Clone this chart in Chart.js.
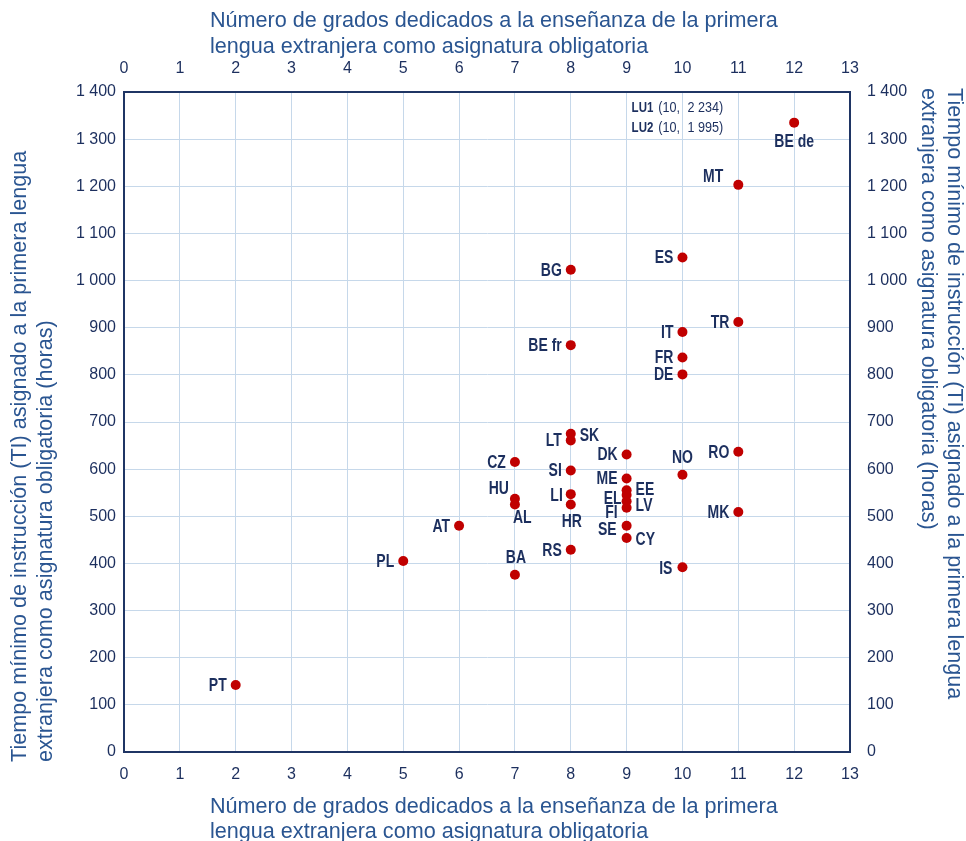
<!DOCTYPE html>
<html lang="es">
<head>
<meta charset="utf-8">
<title>Tiempo mínimo de instrucción de la primera lengua extranjera</title>
<script src="https://cdn.jsdelivr.net/npm/chart.js@4.4.1/dist/chart.umd.min.js"></script>
<style>
  html, body { margin: 0; padding: 0; background: #fff; }
  #wrap { width: 966px; height: 841px; }
</style>
</head>
<body>
<div id="wrap"><canvas id="myChart" width="966" height="841"></canvas></div>
<script>
// países, grados con la lengua como asignatura obligatoria y horas mínimas (TI)
const countries = ['PT', 'PL', 'AT', 'BA', 'CZ', 'HU', 'AL', 'BG', 'BE fr', 'SK', 'LT', 'SI', 'LI', 'HR', 'RS',
                   'DK', 'ME', 'EE', 'EL', 'LV', 'FI', 'SE', 'CY', 'ES', 'IT', 'FR', 'DE', 'NO', 'IS',
                   'MT', 'TR', 'RO', 'MK', 'BE de'];
const grades = [2, 5, 6, 7, 7, 7, 7, 8, 8, 8, 8, 8, 8, 8, 8,
                9, 9, 9, 9, 9, 9, 9, 9, 10, 10, 10, 10, 10, 10,
                11, 11, 11, 11, 12];
const hours = [142, 405, 480, 376, 615, 537, 525, 1023, 863, 675, 661, 597, 547, 525, 429,
               631, 580, 555, 545, 532, 518, 480, 454, 1049, 891, 837, 801, 588, 392,
               1203, 912, 637, 509, 1335];

// Luxemburgo queda fuera de la escala, solo va como nota
const offNames = ['LU1', 'LU2'];
const offGrades = [10, 10];
const offHours = [2234, 1995];

const xTicks = [0, 1, 2, 3, 4, 5, 6, 7, 8, 9, 10, 11, 12, 13];
const yTicks = [0, 100, 200, 300, 400, 500, 600, 700, 800, 900, 1000, 1100, 1200, 1300, 1400];

const xTitle = ['Número de grados dedicados a la enseñanza de la primera',
                'lengua extranjera como asignatura obligatoria'];
const yTitle = ['Tiempo mínimo de instrucción (TI) asignado a la primera lengua',
                'extranjera como asignatura obligatoria (horas)'];

// dónde va cada etiqueta respecto a su punto: alineación, dx, dy
const labelPlace = {
  def: ['right', -9, 1],
  'MT': ['right', -15, -8],
  'BE de': ['center', 0, 20],
  'SK': ['left', 9, 2],
  'NO': ['center', 0, -17],
  'HU': ['right', -6, -10],
  'AL': ['left', -2, 14],
  'HR': ['center', 1, 18],
  'EE': ['left', 9, 0],
  'LV': ['left', 9, 5],
  'EL': ['right', -5, 4],
  'FI': ['right', -9, 5],
  'SE': ['right', -10, 4],
  'CY': ['left', 9, 2],
  'BA': ['center', 1, -17],
  'IS': ['right', -10, 2],
  'LI': ['right', -8, 2]
};

const sans = '"Liberation Sans", Arial, sans-serif';
const navy = '#1c2f5e';
const titleBlue = '#2a5591';
const gridColor = '#c6d8ea';
const frameColor = '#1f3564';

function fmt(v) {
  return String(v).replace(/\B(?=(\d{3})+(?!\d))/g, ' ');
}

// texto estrecho: se comprime en horizontal
function narrowText(ctx, text, x, y, sx) {
  ctx.save();
  ctx.translate(x, y);
  ctx.scale(sx, 1);
  ctx.fillText(text, 0, 0);
  ctx.restore();
}

const pointLabels = {
  id: 'pointLabels',
  afterDatasetsDraw(chart) {
    const ctx = chart.ctx;
    const meta = chart.getDatasetMeta(0);
    ctx.save();
    ctx.fillStyle = navy;
    ctx.textBaseline = 'middle';
    ctx.font = 'bold 17.5px ' + sans;
    meta.data.forEach((pt, i) => {
      const name = countries[i];
      const [align, dx, dy] = labelPlace[name] || labelPlace.def;
      ctx.textAlign = align;
      narrowText(ctx, name, pt.x + dx, pt.y + dy, 0.8);
    });

    // nota LU1 / LU2
    const xs = chart.scales.x;
    ctx.textAlign = 'left';
    offNames.forEach((n, i) => {
      const y = chart.chartArea.top + 16 + i * 20;
      const x0 = xs.getPixelForValue(offGrades[i] - 1) + 5;
      ctx.font = 'bold 14px ' + sans;
      narrowText(ctx, n, x0, y, 0.82);
      const w = ctx.measureText(n).width * 0.82;
      ctx.font = '14px ' + sans;
      narrowText(ctx, '(' + offGrades[i] + ',', x0 + w + 5, y, 0.9);
      narrowText(ctx, fmt(offHours[i]) + ')', xs.getPixelForValue(offGrades[i]) + 5, y, 0.9);
    });
    ctx.restore();
  }
};

const axisTitles = {
  id: 'axisTitles',
  afterDraw(chart) {
    const ctx = chart.ctx;
    ctx.save();
    ctx.font = '21.6px ' + sans;
    ctx.fillStyle = titleBlue;
    ctx.textAlign = 'left';
    ctx.textBaseline = 'middle';
    xTitle.forEach((line, i) => {
      ctx.fillText(line, 210, 21 + i * 26);
      ctx.fillText(line, 210, 807 + i * 25);
    });
    // izquierda, de abajo hacia arriba
    ctx.save();
    ctx.translate(20, 762);
    ctx.rotate(-Math.PI / 2);
    yTitle.forEach((line, i) => ctx.fillText(line, 0, i * 26));
    ctx.restore();
    // derecha, de arriba hacia abajo
    ctx.save();
    ctx.translate(954, 88);
    ctx.rotate(Math.PI / 2);
    yTitle.forEach((line, i) => ctx.fillText(line, 0, i * 26));
    ctx.restore();
    ctx.restore();
  }
};

function xAxis(pos, size, pad, grid) {
  return {
    type: 'linear',
    position: pos,
    min: xTicks[0],
    max: xTicks[xTicks.length - 1],
    afterBuildTicks: s => { s.ticks = xTicks.map(v => ({ value: v })); },
    afterFit: s => { s.height = size; },
    ticks: { padding: pad, color: navy, font: { size: 16 } },
    grid: { display: grid, drawOnChartArea: grid, drawTicks: false, color: gridColor, lineWidth: 1 },
    border: { display: true, color: frameColor, width: 2 }
  };
}

function yAxis(pos, size, pad, grid) {
  return {
    type: 'linear',
    position: pos,
    min: yTicks[0],
    max: yTicks[yTicks.length - 1],
    afterBuildTicks: s => { s.ticks = yTicks.map(v => ({ value: v })); },
    afterFit: s => { s.width = size; },
    ticks: { padding: pad, color: navy, font: { size: 16 }, callback: v => fmt(v) },
    grid: { display: grid, drawOnChartArea: grid, drawTicks: false, color: gridColor, lineWidth: 1 },
    border: { display: true, color: frameColor, width: 2 }
  };
}

Chart.defaults.font.family = sans;

new Chart('myChart', {
  type: 'scatter',
  data: {
    datasets: [{
      data: grades.map((g, i) => ({ x: g, y: hours[i] })),
      backgroundColor: '#c00000',
      borderWidth: 0,
      pointRadius: 5,
      pointHoverRadius: 5
    }]
  },
  options: {
    responsive: false,
    animation: false,
    devicePixelRatio: 1,
    layout: { padding: 0 },
    plugins: { legend: { display: false }, tooltip: { enabled: false } },
    scales: {
      x: xAxis('bottom', 89, 13, true),
      x2: xAxis('top', 92, 14, false),
      y: yAxis('left', 124, 8, true),
      y2: yAxis('right', 116, 17, false)
    }
  },
  plugins: [pointLabels, axisTitles]
});
</script>
</body>
</html>
